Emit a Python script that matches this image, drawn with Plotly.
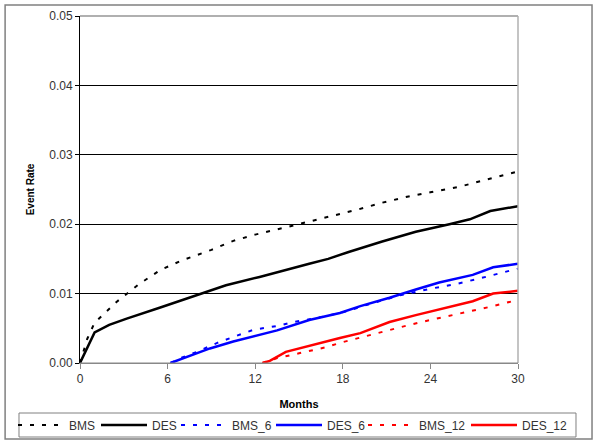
import plotly.graph_objects as go

bms_x = [0, 0.5, 1, 1.5, 2.5, 4, 5.5, 7, 9, 10.5, 12, 14, 15.5, 17, 19, 20.7, 22.5, 24, 26, 27.6, 30]
bms_y = [0, 0.0035, 0.0058, 0.0068, 0.0088, 0.0113, 0.0134, 0.0148, 0.0163, 0.0176, 0.0185, 0.0195,
         0.0203, 0.0210, 0.0221, 0.0231, 0.0240, 0.0246, 0.0254, 0.0263, 0.0276]

des_x = [0, 1, 2, 3.2, 5.5, 7.8, 10, 12.3, 14, 15.7, 17, 18.4, 20.7, 23, 25.3, 26.7, 28.1, 30]
des_y = [0, 0.0044, 0.0055, 0.0064, 0.0080, 0.0096, 0.0112, 0.0124, 0.0134, 0.0143, 0.0150, 0.0160,
         0.0175, 0.0189, 0.0200, 0.0207, 0.0219, 0.0226]

bms6_x = [6.2, 7, 8, 9.4, 10.3, 11.9, 13.7, 14.6, 16, 18, 20, 22, 24, 25.8, 27.4, 29, 30]
bms6_y = [0, 0.0008, 0.0016, 0.0029, 0.0036, 0.0048, 0.0054, 0.0059, 0.0064, 0.0073, 0.0086, 0.0098,
          0.0107, 0.0114, 0.0122, 0.0130, 0.0136]

des6_x = [6.2, 7, 8.9, 10.5, 12.3, 13.5, 15.7, 17.8, 19.2, 21.2, 23, 24.6, 26.9, 28.3, 30]
des6_y = [0, 0.0006, 0.0021, 0.0031, 0.0041, 0.0047, 0.0062, 0.0072, 0.0082, 0.0094, 0.0106, 0.0116,
          0.0127, 0.0138, 0.0143]

bms12_x = [12.5, 13.5, 15, 16.9, 17.8, 20.1, 22.4, 24, 26, 28.1, 30]
bms12_y = [0, 0.0007, 0.0014, 0.0023, 0.0029, 0.0042, 0.0054, 0.0062, 0.0071, 0.0081, 0.0091]

des12_x = [12.5, 13, 14.1, 15.7, 17.8, 19.2, 21.2, 23, 24.6, 26.9, 28.3, 30]
des12_y = [0, 0.0003, 0.0016, 0.0025, 0.0036, 0.0043, 0.0059, 0.0069, 0.0077, 0.0089, 0.0100, 0.0104]

x_ticks = [0, 6, 12, 18, 24, 30]
y_ticks = [0.00, 0.01, 0.02, 0.03, 0.04, 0.05]

series_names = ["BMS", "DES", "BMS_6", "DES_6", "BMS_12", "DES_12"]
series_x = [bms_x, des_x, bms6_x, des6_x, bms12_x, des12_x]
series_y = [bms_y, des_y, bms6_y, des6_y, bms12_y, des12_y]
series_colors = ["#000000", "#000000", "#0000ff", "#0000ff", "#ff0000", "#ff0000"]
series_dash = ["4px,8px", "solid", "4px,8px", "solid", "4px,8px", "solid"]
series_width = [2, 2.5, 2, 2.5, 2, 2.5]

# legend entry start positions (px, from the left of the figure)
legend_px = [22, 105, 185, 280, 372, 475]

fig = go.Figure()
legend_layouts = {}
for i, name in enumerate(series_names):
    lid = "legend" if i == 0 else f"legend{i + 1}"
    fig.add_trace(go.Scatter(x=series_x[i], y=series_y[i], mode="lines", name=name,
                             legend=lid,
                             line=dict(color=series_colors[i], dash=series_dash[i],
                                       width=series_width[i])))
    legend_layouts[lid] = dict(
        orientation="h", xref="container", yref="container",
        x=(legend_px[i] - 9) / 600, xanchor="left",
        y=1 - 425 / 445, yanchor="middle",
        bgcolor="rgba(0,0,0,0)", borderwidth=0,
        font=dict(size=12, color="#333333"), itemwidth=46,
    )

font_family = "Liberation Sans, Arial, sans-serif"

fig.update_layout(
    width=600, height=445,
    margin=dict(l=80, r=82, t=16, b=82, autoexpand=False),
    paper_bgcolor="white", plot_bgcolor="white",
    font=dict(family=font_family, size=12, color="#333333"),
    showlegend=True,
    xaxis=dict(range=[0, 30], tickvals=x_ticks, ticktext=[str(v) for v in x_ticks],
               showgrid=False, zeroline=False, showline=True, linecolor="#888888", linewidth=1,
               ticks="outside", ticklen=5, tickcolor="#888888", automargin=False,
               title=dict(text="<b>Months</b>", font=dict(size=11, color="#000000"), standoff=14),
               tickfont=dict(size=12, color="#333333")),
    yaxis=dict(range=[0, 0.05], tickvals=y_ticks, tickformat=".2f",
               showgrid=True, gridcolor="#000000", gridwidth=1, zeroline=False,
               showline=True, linecolor="#000000", linewidth=1,
               ticks="outside", ticklen=4, tickcolor="#000000", automargin=False,
               title=dict(text="<b>Event Rate</b>", font=dict(size=10, color="#000000"), standoff=12),
               tickfont=dict(size=12, color="#333333")),
    shapes=[
        dict(type="line", xref="paper", yref="paper", x0=0, x1=1, y0=1, y1=1,
             line=dict(color="#b0b0b0", width=2)),
        dict(type="line", xref="paper", yref="paper", x0=1, x1=1, y0=0, y1=1,
             line=dict(color="#b0b0b0", width=1.5)),
        dict(type="line", xref="paper", yref="paper", x0=0, x1=1, y0=0, y1=0,
             line=dict(color="#888888", width=1)),
        # outer chart frame
        dict(type="rect", xref="paper", yref="paper", x0=-0.171, x1=1.169, y0=-0.219, y1=1.032,
             line=dict(color="#808080", width=1.5)),
        # legend frame
        dict(type="rect", xref="paper", yref="paper", x0=-0.1393, x1=1.1324, y0=-0.2133, y1=-0.1441,
             line=dict(color="#808080", width=1)),
    ],
    **legend_layouts,
)

fig.write_html("out.html", config={"displayModeBar": False},
               post_script="document.body.style.margin='0';")
